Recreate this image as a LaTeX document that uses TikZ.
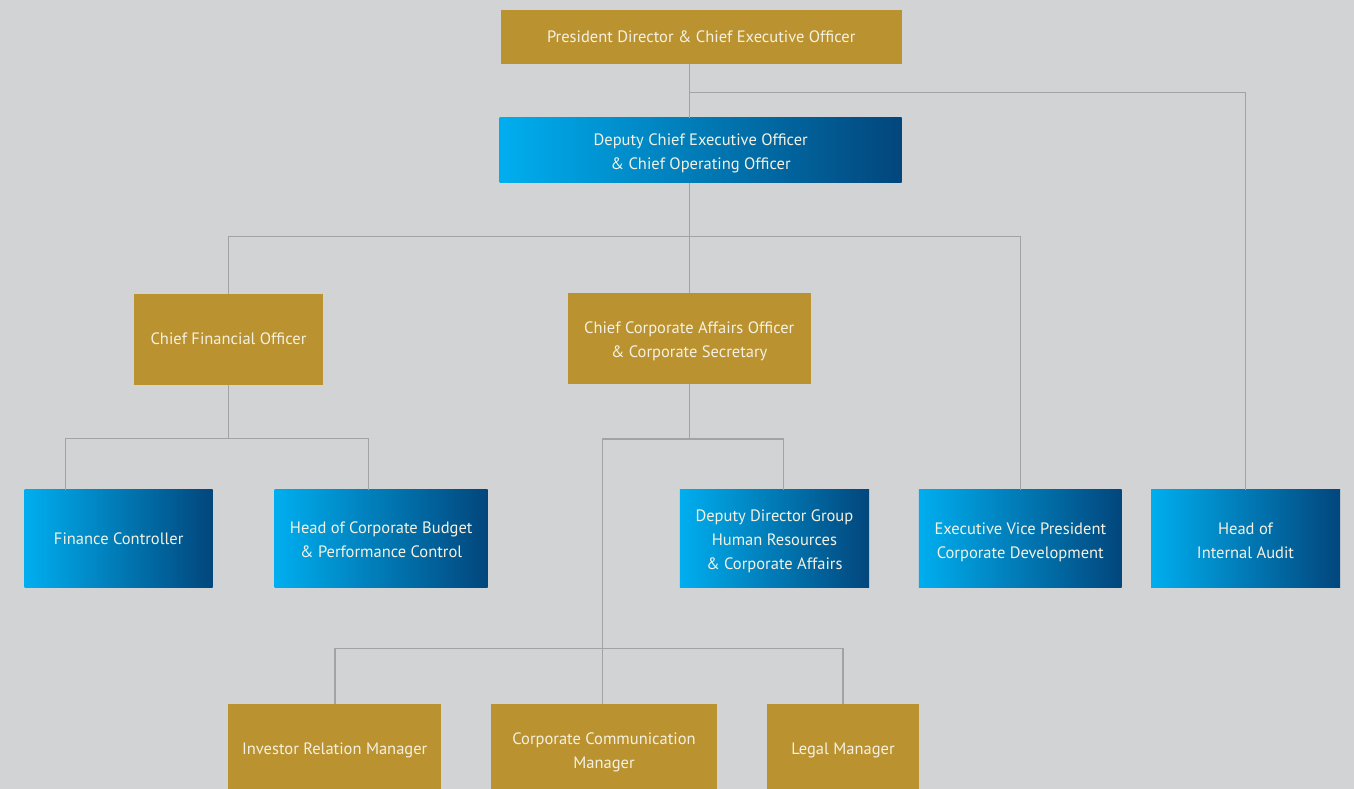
\documentclass[tikz,border=0pt]{standalone}
\usepackage{fontspec}
\setmainfont{PT Sans}
\definecolor{bg}{HTML}{D2D3D5}
\definecolor{gold}{HTML}{BB9230}
\definecolor{blA}{HTML}{00AEEF}
\definecolor{blB}{HTML}{02467C}
\definecolor{txt}{HTML}{F4F1E2}
\definecolor{ln}{HTML}{A2A3A5}
\tikzset{
  box/.style={rectangle, inner sep=0pt, text=txt, align=center,
    font=\fontsize{16.5}{24}\selectfont},
  goldbox/.style={box, fill=gold},
  bluebox/.style={box, left color=blA, right color=blB, shading=axis, shading angle=90},
  lab/.style 2 args={label={[box, yshift=-#1pt]center:{#2}}},
  conn/.style={draw=ln, line width=1.5pt}
}
\begin{document}
\begin{tikzpicture}[x=1pt,y=-1pt]
\fill[bg] (0,0) rectangle (1354,789);
\useasboundingbox (0,0) rectangle (1354,789);
% boxes (center, size)
\node[goldbox, minimum width=401pt, minimum height=53.5pt, lab={0}{President Director \& Chief Executive Officer}] (pres) at (701.2,36.8) {};
\node[bluebox, minimum width=402pt, minimum height=64.7pt, lab={3}{Deputy Chief Executive Officer\\\& Chief Operating Officer}] (dep) at (700.7,150.3) {};
\node[goldbox, minimum width=188.4pt, minimum height=90.7pt, lab={-1}{Chief Financial Officer}] (cfo) at (228.5,339.3) {};
\node[goldbox, minimum width=243pt, minimum height=90.7pt, lab={3}{Chief Corporate Affairs Officer\\\& Corporate Secretary}] (ccao) at (689.2,338.3) {};
\node[bluebox, minimum width=188pt, minimum height=97.5pt, lab={0}{Finance Controller}] (fc) at (118.7,538.7) {};
\node[bluebox, minimum width=213pt, minimum height=97.5pt, lab={1.5}{Head of Corporate Budget\\\& Performance Control}] (bud) at (381.2,538.7) {};
\node[bluebox, minimum width=189.3pt, minimum height=97.7pt, lab={2}{Deputy Director Group\\Human Resources\\\& Corporate Affairs}] (hr) at (774.4,538.8) {};
\node[bluebox, minimum width=202.7pt, minimum height=97.7pt, lab={3.5}{Executive Vice President\\Corporate Development}] (evp) at (1020.3,538.8) {};
\node[bluebox, minimum width=189pt, minimum height=97.7pt, lab={1.5}{Head of\\Internal Audit}] (audit) at (1245.5,538.8) {};
\node[goldbox, minimum width=213.5pt, minimum height=88pt, lab={2}{Investor Relation Manager}] (inv) at (334.7,748) {};
\node[goldbox, minimum width=226pt, minimum height=88pt, lab={4}{Corporate Communication\\Manager}] (cc) at (604,748) {};
\node[goldbox, minimum width=152pt, minimum height=88pt, lab={2}{Legal Manager}] (leg) at (843,748) {};
% junctions
\coordinate (a) at (689.7,92.3);
\coordinate (b) at (689.7,236.3);
\coordinate (c1) at (65.3,438.7);
\coordinate (c2) at (368.7,438.7);
\coordinate (d1) at (602.3,439);
\coordinate (d2) at (783.3,439);
\coordinate (e1) at (335,648.5);
\coordinate (e2) at (843,648.5);
% connectors
\draw[conn] (a |- pres.south) -- (a |- dep.north);
\draw[conn] (a) -| (audit.north);
\draw[conn] (a |- dep.south) -- (b);
\draw[conn] (cfo.north) |- (b);
\draw[conn] (b) -| (evp.north);
\draw[conn] (b) -- (b |- ccao.north);
\draw[conn] (cfo.south) -- (cfo.south |- c1);
\draw[conn] (c1 |- fc.north) |- (c2) -- (c2 |- bud.north);
\draw[conn] (b |- ccao.south) -- (b |- d1);
\draw[conn] (d1) -- (d2) -- (d2 |- hr.north);
\draw[conn] (d1) -- (d1 |- cc.north);
\draw[conn] (e1 |- inv.north) |- (e2) -- (e2 |- leg.north);
\end{tikzpicture}
\end{document}
